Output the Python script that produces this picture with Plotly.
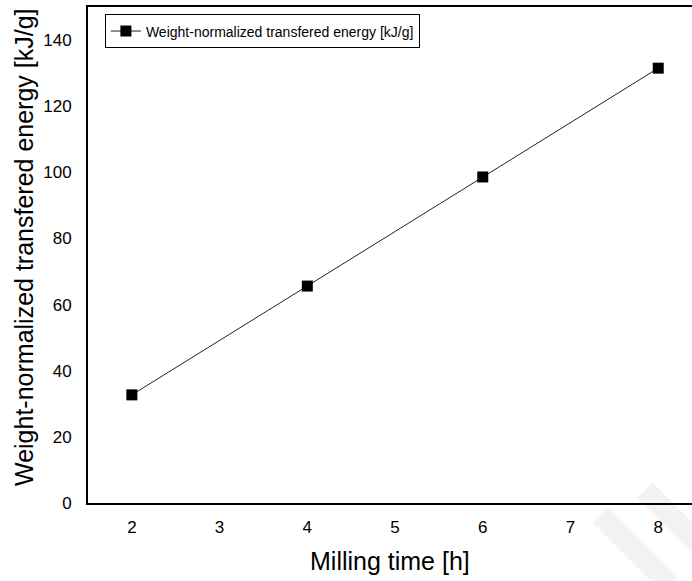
import plotly.graph_objects as go

milling_time = [2, 4, 6, 8]
energy = [32.7, 65.6, 98.6, 131.5]
x_ticks = [2, 3, 4, 5, 6, 7, 8]
y_ticks = [0, 20, 40, 60, 80, 100, 120, 140]
series_name = "Weight-normalized transfered energy [kJ/g]"
x_title = "Milling time [h]"
y_title = "Weight-normalized transfered energy [kJ/g]"

FONT = "Liberation Sans, Arial, sans-serif"

fig = go.Figure()
fig.add_trace(go.Scatter(
    x=milling_time, y=energy, mode="lines+markers", name=series_name,
    line=dict(color="#222222", width=1),
    marker=dict(symbol="square", size=11, color="black"),
))

# faint background watermark stripes (decoration only)
for x0, y0, x1, y1 in [(0.922, 0.026, 1.013, -0.085), (0.848, -0.024, 0.964, -0.165)]:
    fig.add_shape(type="line", xref="paper", yref="paper", x0=x0, y0=y0, x1=x1, y1=y1,
                  line=dict(color="#f3f3f3", width=22), layer="below")

fig.add_annotation(text=x_title, xref="paper", yref="paper", x=0.5, y=0,
                   xanchor="center", yanchor="middle", yshift=-58, showarrow=False,
                   font=dict(size=25, family=FONT, color="black"))
fig.add_annotation(text=y_title, xref="paper", yref="paper", x=0, y=0.5,
                   xanchor="center", yanchor="middle", xshift=-64, yshift=8,
                   textangle=-90, showarrow=False,
                   font=dict(size=25, family=FONT, color="black"))

fig.update_layout(
    width=692, height=581,
    margin=dict(l=88, r=0, t=7, b=78),
    paper_bgcolor="white", plot_bgcolor="rgba(0,0,0,0)",
    font=dict(family=FONT, color="black"),
    showlegend=True,
    legend=dict(
        x=0.028, y=0.985, xanchor="left", yanchor="top",
        bordercolor="black", borderwidth=1, bgcolor="white",
        font=dict(size=14, family=FONT, color="black"),
        tracegroupgap=0, itemwidth=30,
    ),
    xaxis=dict(
        range=[1.5, 8.385], tickvals=x_ticks, ticks="", showgrid=False,
        zeroline=False, showline=True, linecolor="black", linewidth=2,
        mirror=True, tickfont=dict(size=17, family=FONT), ticklabelstandoff=8,
        automargin=False,
    ),
    yaxis=dict(
        range=[0, 150], tickvals=y_ticks, ticks="", showgrid=False,
        zeroline=False, showline=True, linecolor="black", linewidth=2,
        mirror=False, tickfont=dict(size=17, family=FONT), ticklabelstandoff=11,
        automargin=False,
    ),
)

fig.write_html("out.html",
               config={"displayModeBar": False},
               post_script="document.body.style.margin='0px';document.body.style.overflow='hidden';")
